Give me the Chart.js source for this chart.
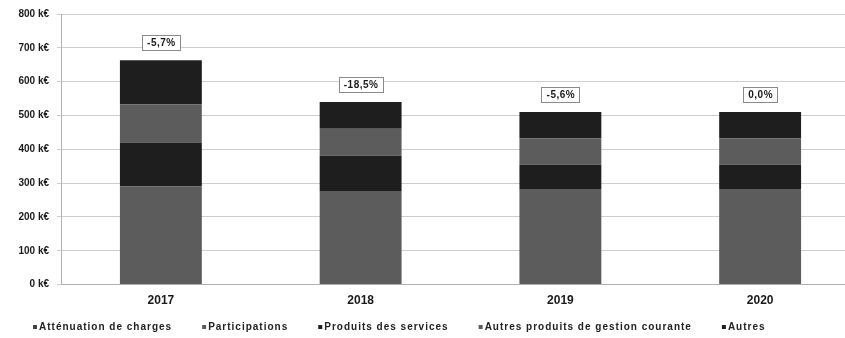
<!DOCTYPE html>
<html lang="fr">
<head>
    <meta charset="UTF-8">
    <meta name="viewport" content="width=device-width, initial-scale=1.0">
    <script src="https://cdn.jsdelivr.net/npm/chart.js@4.4.1/dist/chart.umd.min.js"></script>
    <title>Recettes de fonctionnement</title>
    <style>
        html, body { margin: 0; padding: 0; background: #fff; overflow: hidden; }
        #wrap { position: relative; width: 860px; height: 338px; }
    </style>
</head>
<body>
    <div id="wrap"><canvas id="chart"></canvas></div>
    <script>
        const years = ['2017', '2018', '2019', '2020'];
        const attenuation = [2, 2, 2, 2];
        const participations = [288, 275, 281, 281];
        const produitsServices = [130, 104, 71, 71];
        const autresGestion = [113, 80, 78, 78];
        const autres = [130, 79, 78, 78];
        const evolution = ['-5,7%', '-18,5%', '-5,6%', '0,0%'];

        const grey = '#5c5c5c';
        const dark = '#1e1e1e';
        const fontFamily = '"Liberation Sans", Arial, sans-serif';

        // boxed percentage above each stacked column
        const evolutionLabels = {
            id: 'evolutionLabels',
            afterDatasetsDraw(chart) {
                const ctx = chart.ctx;
                const last = chart.getDatasetMeta(chart.data.datasets.length - 1);
                ctx.save();
                ctx.font = 'bold 10px ' + fontFamily;
                ctx.letterSpacing = '0.5px';
                ctx.textAlign = 'center';
                ctx.textBaseline = 'middle';
                last.data.forEach((bar, i) => {
                    const txt = evolution[i];
                    const w = Math.round(ctx.measureText(txt).width + 9);
                    const h = 15;
                    const left = Math.round(bar.x - w / 2);
                    const top = Math.round(bar.y - 10 - h);
                    ctx.fillStyle = '#fff';
                    ctx.fillRect(left, top, w, h);
                    ctx.strokeStyle = '#8a8a8a';
                    ctx.lineWidth = 1;
                    ctx.strokeRect(left + 0.5, top + 0.5, w, h);
                    ctx.fillStyle = '#1a1a1a';
                    ctx.fillText(txt, bar.x + 0.5, top + h / 2 + 1);
                });
                ctx.restore();
            }
        };

        // legend row under the axis, small square markers and wide gaps
        const bottomLegend = {
            id: 'bottomLegend',
            afterDraw(chart) {
                const ctx = chart.ctx;
                ctx.save();
                ctx.font = 'bold 10px ' + fontFamily;
                ctx.letterSpacing = '1px';
                ctx.textBaseline = 'middle';
                let x = 33;
                const y = 327;
                chart.data.datasets.forEach(ds => {
                    ctx.fillStyle = ds.backgroundColor;
                    ctx.fillRect(x, y - 2, 4, 4);
                    ctx.fillStyle = '#222';
                    ctx.fillText(ds.label, x + 6, y);
                    x += 6 + ctx.measureText(ds.label).width + 30;
                });
                ctx.restore();
            }
        };

        Chart.defaults.font.family = fontFamily;
        Chart.defaults.color = '#222';

        new Chart(document.getElementById('chart'), {
            type: 'bar',
            data: {
                labels: years,
                datasets: [
                    { label: 'Atténuation de charges', data: attenuation, backgroundColor: '#444' },
                    { label: 'Participations', data: participations, backgroundColor: grey },
                    { label: 'Produits des services', data: produitsServices, backgroundColor: dark },
                    { label: 'Autres produits de gestion courante', data: autresGestion, backgroundColor: grey },
                    { label: 'Autres', data: autres, backgroundColor: dark }
                ]
            },
            options: {
                responsive: true,
                maintainAspectRatio: false,
                animation: false,
                categoryPercentage: 1,
                barPercentage: 0.41,
                layout: { padding: { top: 9, right: 0, left: 0, bottom: 29 } },
                plugins: {
                    tooltip: { enabled: false },
                    legend: { display: false }
                },
                scales: {
                    x: {
                        stacked: true,
                        grid: { display: false },
                        border: { color: '#b0b0b0' },
                        ticks: { font: { size: 12, weight: 'bold' }, color: '#1a1a1a', padding: 1 }
                    },
                    y: {
                        stacked: true,
                        min: 0,
                        max: 800,
                        afterFit(scale) { scale.width = 61; },
                        border: { color: '#b0b0b0' },
                        grid: { color: '#cecece', tickLength: 4 },
                        ticks: {
                            stepSize: 100,
                            padding: 8,
                            font: { size: 10, weight: 'bold' },
                            color: '#1a1a1a',
                            callback: value => value + ' k€'
                        }
                    }
                }
            },
            plugins: [evolutionLabels, bottomLegend]
        });
    </script>
</body>
</html>
